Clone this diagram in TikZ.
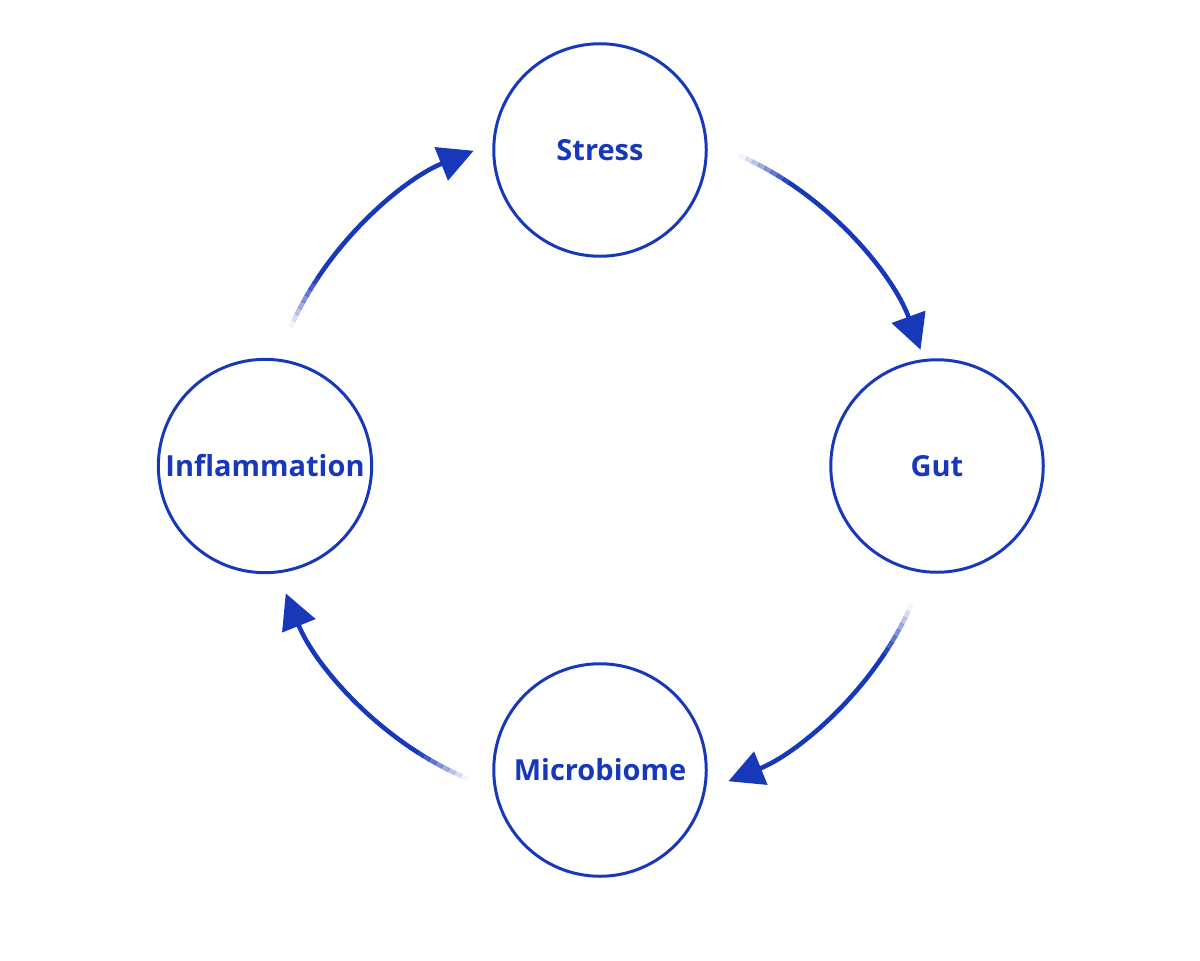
\documentclass[tikz,border=0pt]{standalone}
\usepackage{fontspec}
\setmainfont{Open Sans}
\usetikzlibrary{arrows.meta,calc}
\definecolor{CycleBlue}{HTML}{1838BA}

\tikzset{
  stage/.style={circle,draw=CycleBlue,line width=1.7pt,minimum size=4.25cm,
    text=CycleBlue,font=\fontsize{16.5}{19}\selectfont\bfseries,fill=white},
  flow/.style={CycleBlue,line width=2.6pt,-{Triangle[length=7mm,width=7mm]}},
}

\begin{document}
\begin{tikzpicture}
   \useasboundingbox (0,0) rectangle (24,-19.2);
   \coordinate (hub) at (12.02,-9.32);

   \node[stage] (stress) at (12,-3) {Stress};
   \node[stage] (gut) at (18.74,-9.32) {Gut};
   \node[stage] (micro) at (12,-15.4) {Microbiome};
   \node[stage] (infl) at (5.3,-9.32) {Inflammation};

   % arcs round the hub, each fading in at its tail
   \foreach \a/\b in {66/20, -24/-68, -113/-158, 156/112}{
     \foreach \i in {0,...,7}{
       \draw[CycleBlue,line width=2.6pt,opacity=\i/8+0.05]
         ($(hub)+(\a-1.2*\i:6.8)$) arc[start angle=\a-1.2*\i,end angle=\a-1.2*\i-1.3,radius=6.8];
     }
     \draw[flow] ($(hub)+(\a-9.5:6.8)$) arc[start angle=\a-9.5,end angle=\b,radius=6.8];
   }
\end{tikzpicture}
\end{document}
